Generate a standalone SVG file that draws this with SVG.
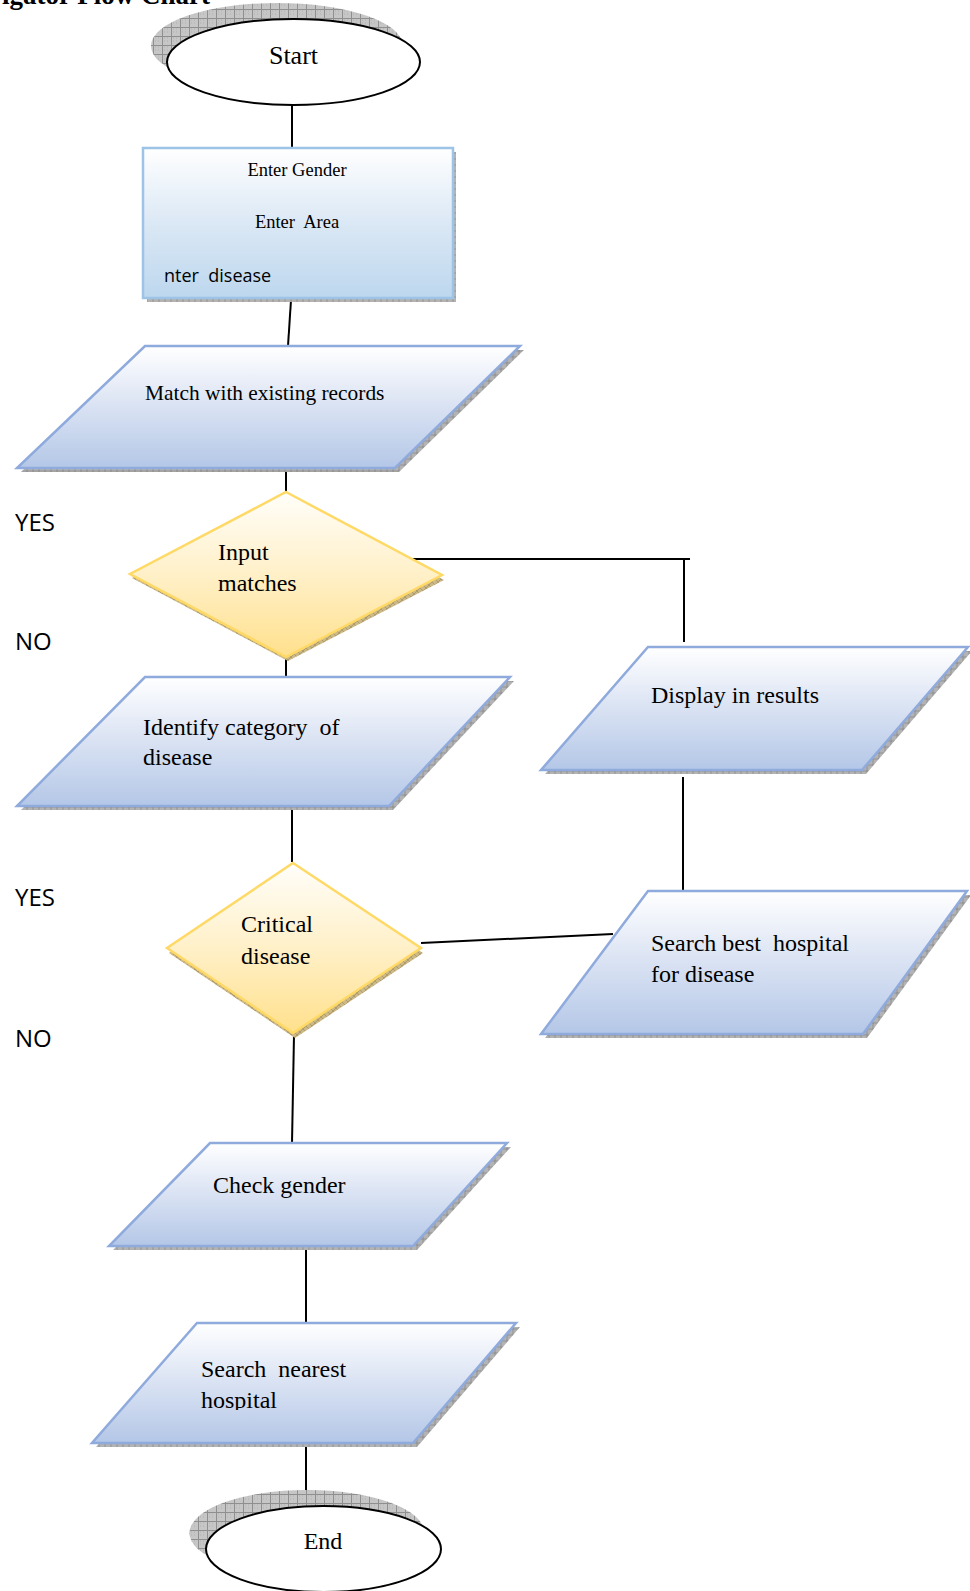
<svg xmlns="http://www.w3.org/2000/svg" width="970" height="1591" viewBox="0 0 970 1591">
<defs>
<linearGradient id="gBlue" x1="0" y1="0" x2="0" y2="1">
<stop offset="0" stop-color="#ffffff"/><stop offset="0.45" stop-color="#dde5f4"/><stop offset="1" stop-color="#b4c7e7"/>
</linearGradient>
<linearGradient id="gBox" x1="0" y1="0" x2="0" y2="1">
<stop offset="0" stop-color="#ffffff"/><stop offset="0.5" stop-color="#dbe8f5"/><stop offset="1" stop-color="#bdd7ee"/>
</linearGradient>
<linearGradient id="gGold" x1="0" y1="0" x2="0" y2="1">
<stop offset="0" stop-color="#fffefa"/><stop offset="0.5" stop-color="#fff0c8"/><stop offset="1" stop-color="#ffe08c"/>
</linearGradient>
<pattern id="hatch" width="6" height="6" patternUnits="userSpaceOnUse">
<rect width="6" height="6" fill="#b3b3b3"/>
<path d="M0 3H6M3 0V6" stroke="#7a7a7a" stroke-width="0.6"/>
</pattern>
<pattern id="hatchGold" width="6" height="6" patternUnits="userSpaceOnUse">
<rect width="6" height="6" fill="#cdb985"/>
<path d="M0 0L6 6M6 0L0 6" stroke="#8f7f55" stroke-width="0.5"/>
</pattern>
<pattern id="grid" width="9" height="9" patternUnits="userSpaceOnUse">
<rect width="9" height="9" fill="#c6c6c6"/>
<path d="M0 0.5H9M0.5 0V9" stroke="#8f8f8f" stroke-width="1"/>
<path d="M2 2h1M5 5h1M2 5h1M5 2h1" stroke="#b0b0b0" stroke-width="1"/>
</pattern>
<clipPath id="clipNearest"><rect x="0" y="1300" width="970" height="110"/></clipPath>
<style>
.serif{font-family:"Liberation Serif","Times New Roman",serif;fill:#000}
.sans{font-family:"Open Sans","DejaVu Sans",sans-serif;fill:#000}
.para{fill:url(#gBlue);stroke:#8faadc;stroke-width:2.5;stroke-linejoin:miter}
.shadow{fill:url(#hatch)}
.dia{fill:url(#gGold);stroke:#ffd966;stroke-width:2.5}
.term{fill:#ffffff;stroke:#000;stroke-width:2}
.conn line,.conn polyline{stroke:#000;stroke-width:2;fill:none}
</style>
</defs>
<rect width="970" height="1591" fill="#ffffff"/>

<text class="serif" x="2" y="4" font-size="27" font-weight="bold">igator Flow Chart</text>

<g id="connectors" class="conn">
<line x1="292" y1="105" x2="292" y2="148"/>
<line x1="291" y1="300" x2="288" y2="346"/>
<line x1="286" y1="468" x2="286" y2="492"/>
<line x1="286" y1="657" x2="286" y2="677"/>
<polyline points="409,559 690,559"/>
<line x1="684" y1="559" x2="684" y2="642"/>
<line x1="683" y1="777" x2="683" y2="890"/>
<line x1="292" y1="806" x2="292" y2="862"/>
<line x1="421" y1="943" x2="613" y2="934"/>
<line x1="294" y1="1035" x2="292" y2="1143"/>
<line x1="306" y1="1246" x2="306" y2="1323"/>
<line x1="306" y1="1443" x2="306" y2="1506"/>
</g>

<g id="start">
<ellipse cx="277" cy="46" rx="126" ry="43" fill="url(#grid)"/>
<ellipse class="term" cx="293.5" cy="62" rx="126.5" ry="43"/>
<text class="serif" x="293.5" y="64" font-size="26" text-anchor="middle">Start</text>
</g>

<g id="input">
<rect x="147" y="152" width="309" height="150" fill="url(#hatch)"/>
<rect x="143" y="148" width="310" height="150" fill="url(#gBox)" stroke="#9dc3e6" stroke-width="2.5"/>
<text class="serif" x="297" y="176" font-size="18.5" text-anchor="middle">Enter Gender</text>
<text class="serif" x="297" y="228" font-size="18.5" text-anchor="middle" xml:space="preserve">Enter  Area</text>
<text class="sans" x="164" y="282" font-size="18" xml:space="preserve">nter  disease</text>
</g>

<g id="match">
<polygon class="shadow" points="149,350 524,350 399,472 21,472"/>
<polygon class="para" points="145,346 520,346 395,468 17,468"/>
<text class="serif" x="145" y="400" font-size="21.4">Match with existing records</text>
</g>

<g id="decision1">
<polygon fill="url(#hatchGold)" points="288,496 444,580 288,661 132,578"/>
<polygon class="dia" points="286,492 442,575 286,657 130,574"/>
<text class="serif" x="218" y="560" font-size="24">Input</text>
<text class="serif" x="218" y="591" font-size="24">matches</text>
</g>

<text class="sans" x="15" y="531" font-size="24">YES</text>
<text class="sans" x="15" y="650" font-size="24">NO</text>

<g id="identify">
<polygon class="shadow" points="149,681 514,681 393,810 21,810"/>
<polygon class="para" points="145,677 510,677 389,806 17,806"/>
<text class="serif" x="143" y="735" font-size="24" xml:space="preserve">Identify category  of</text>
<text class="serif" x="143" y="765" font-size="24">disease</text>
</g>

<g id="display">
<polygon class="shadow" points="652,651 972,651 866,774 545,774"/>
<polygon class="para" points="648,647 968,647 862,770 541,770"/>
<text class="serif" x="651" y="703" font-size="24">Display in results</text>
</g>

<g id="decision2">
<polygon fill="url(#hatchGold)" points="295,867 423,953 295,1038 169,953"/>
<polygon class="dia" points="293,863 421,948 293,1033 167,948"/>
<text class="serif" x="241" y="932" font-size="24">Critical</text>
<text class="serif" x="241" y="964" font-size="24">disease</text>
</g>

<text class="sans" x="15" y="906" font-size="24">YES</text>
<text class="sans" x="15" y="1047" font-size="24">NO</text>

<g id="searchBest">
<polygon class="shadow" points="652,895 971,895 867,1038 545,1038"/>
<polygon class="para" points="648,891 967,891 863,1034 541,1034"/>
<text class="serif" x="651" y="951" font-size="24" xml:space="preserve">Search best  hospital</text>
<text class="serif" x="651" y="982" font-size="24">for disease</text>
</g>

<g id="checkGender">
<polygon class="shadow" points="214,1147 511,1147 417,1250 113,1250"/>
<polygon class="para" points="210,1143 507,1143 413,1246 109,1246"/>
<text class="serif" x="213" y="1193" font-size="24">Check gender</text>
</g>

<g id="searchNearest">
<polygon class="shadow" points="201,1327 520,1327 417,1447 96,1447"/>
<polygon class="para" points="197,1323 516,1323 413,1443 92,1443"/>
<g clip-path="url(#clipNearest)">
<text class="serif" x="201" y="1377" font-size="24" xml:space="preserve">Search  nearest</text>
<text class="serif" x="201" y="1408" font-size="24">hospital</text>
</g>
</g>

<g id="end">
<ellipse cx="307" cy="1533" rx="117.5" ry="43" fill="url(#grid)"/>
<ellipse class="term" cx="323.5" cy="1549" rx="117.5" ry="43"/>
<text class="serif" x="323" y="1549" font-size="24" text-anchor="middle">End</text>
</g>
</svg>
